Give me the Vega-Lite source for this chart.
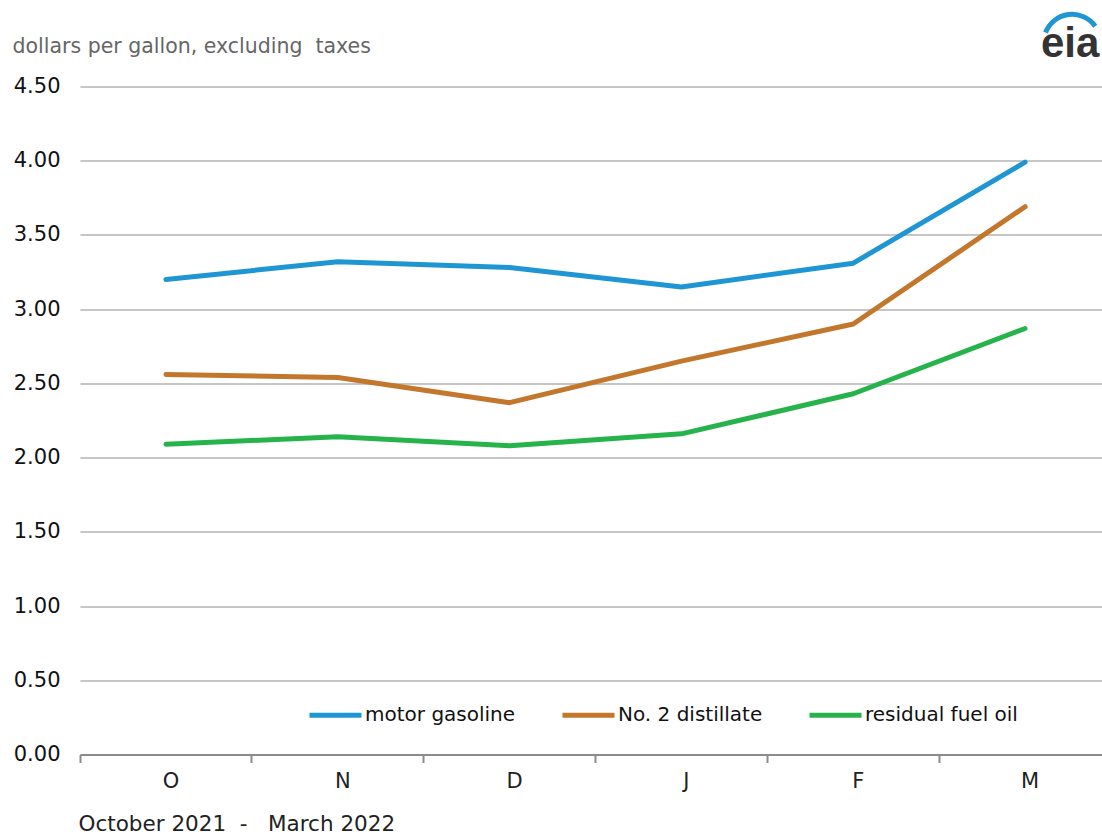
{
  "$schema": "https://vega.github.io/schema/vega-lite/v6.json",
  "width": 1010,
  "height": 668,
  "autosize": "none",
  "padding": {"left": 80, "top": 86.5, "right": 12, "bottom": 80.5},
  "background": "white",
  "data": {
    "values": [
      {"month": "O", "series": "motor gasoline", "price": 3.20},
      {"month": "N", "series": "motor gasoline", "price": 3.32},
      {"month": "D", "series": "motor gasoline", "price": 3.28},
      {"month": "J", "series": "motor gasoline", "price": 3.15},
      {"month": "F", "series": "motor gasoline", "price": 3.31},
      {"month": "M", "series": "motor gasoline", "price": 3.99},
      {"month": "O", "series": "No. 2 distillate", "price": 2.56},
      {"month": "N", "series": "No. 2 distillate", "price": 2.54},
      {"month": "D", "series": "No. 2 distillate", "price": 2.37},
      {"month": "J", "series": "No. 2 distillate", "price": 2.65},
      {"month": "F", "series": "No. 2 distillate", "price": 2.90},
      {"month": "M", "series": "No. 2 distillate", "price": 3.69},
      {"month": "O", "series": "residual fuel oil", "price": 2.09},
      {"month": "N", "series": "residual fuel oil", "price": 2.14},
      {"month": "D", "series": "residual fuel oil", "price": 2.08},
      {"month": "J", "series": "residual fuel oil", "price": 2.16},
      {"month": "F", "series": "residual fuel oil", "price": 2.43},
      {"month": "M", "series": "residual fuel oil", "price": 2.87}
    ]
  },
  "layer": [
    {
      "mark": {"type": "line", "strokeWidth": 5, "strokeCap": "round", "strokeJoin": "round", "interpolate": "linear"},
      "encoding": {
        "x": {
          "field": "month",
          "type": "ordinal",
          "sort": ["O", "N", "D", "J", "F", "M"],
          "scale": {"type": "band", "paddingInner": 0, "paddingOuter": 0, "rangeMax": 1031},
          "axis": {
            "bandPosition": 0,
            "grid": false,
            "labelAngle": 0,
            "labelFontSize": 21,
            "labelColor": "#222222",
            "labelFont": "DejaVu Sans",
            "labelPadding": 8,
            "labelOffset": 5,
            "domainColor": "#8c8c8c",
            "domainWidth": 2,
            "tickColor": "#8c8c8c",
            "tickWidth": 2,
            "tickSize": 8,
            "title": "October 2021\u00a0\u00a0-\u00a0\u00a0\u00a0March 2022",
            "titleFont": "DejaVu Sans",
            "titleFontSize": 21.5,
            "titleFontWeight": "normal",
            "titleColor": "#222222",
            "titleAngle": 0,
            "titleAlign": "left",
            "titleBaseline": "alphabetic",
            "titleX": -2,
            "titleY": 76
          }
        },
        "y": {
          "field": "price",
          "type": "quantitative",
          "scale": {"domain": [0, 4.5], "nice": false, "zero": true},
          "axis": {
            "values": [0, 0.5, 1, 1.5, 2, 2.5, 3, 3.5, 4, 4.5],
            "format": ".2f",
            "domain": false,
            "ticks": false,
            "grid": true,
            "gridColor": "#c6c6c6",
            "gridWidth": 2,
            "labelFontSize": 21,
            "labelColor": "#111111",
            "labelFont": "DejaVu Sans",
            "labelPadding": 20,
            "title": "dollars per gallon, excluding\u00a0 taxes",
            "titleFont": "DejaVu Sans",
            "titleFontSize": 20.5,
            "titleFontWeight": "normal",
            "titleColor": "#666666",
            "titleAngle": 0,
            "titleAlign": "left",
            "titleBaseline": "alphabetic",
            "titleX": -68,
            "titleY": -34
          }
        },
        "color": {
          "field": "series",
          "type": "nominal",
          "scale": {
            "domain": ["motor gasoline", "No. 2 distillate", "residual fuel oil"],
            "range": ["#1f96d4", "#c2772d", "#27b34b"]
          },
          "legend": {
            "orient": "none",
            "legendX": 227,
            "legendY": 600,
            "direction": "horizontal",
            "title": null,
            "padding": 0,
            "symbolType": "stroke",
            "symbolSize": 2704,
            "symbolStrokeWidth": 5,
            "labelFontSize": 20,
            "labelFont": "DejaVu Sans",
            "labelColor": "#111111",
            "labelOffset": 1,
            "columnPadding": 36
          }
        }
      }
    },
    {
      "data": {"values": [{"logo": "eia"}]},
      "mark": {
        "type": "arc",
        "radius": 31,
        "radius2": 26,
        "theta": -1.2,
        "theta2": 0.95,
        "fill": "#1f96d4",
        "xOffset": 47
      },
      "encoding": {
        "x": {"datum": "M", "type": "ordinal"},
        "y": {"datum": 4.794, "type": "quantitative"}
      }
    },
    {
      "data": {"values": [{"logo": "eia"}]},
      "mark": {
        "type": "text",
        "font": "Liberation Sans",
        "fontSize": 42,
        "fontWeight": "bold",
        "color": "#333333",
        "align": "center",
        "baseline": "alphabetic",
        "xOffset": 45
      },
      "encoding": {
        "x": {"datum": "M", "type": "ordinal"},
        "y": {"datum": 4.70, "type": "quantitative"},
        "text": {"field": "logo"}
      }
    }
  ],
  "config": {
    "view": {"stroke": null},
    "font": "DejaVu Sans"
  }
}
